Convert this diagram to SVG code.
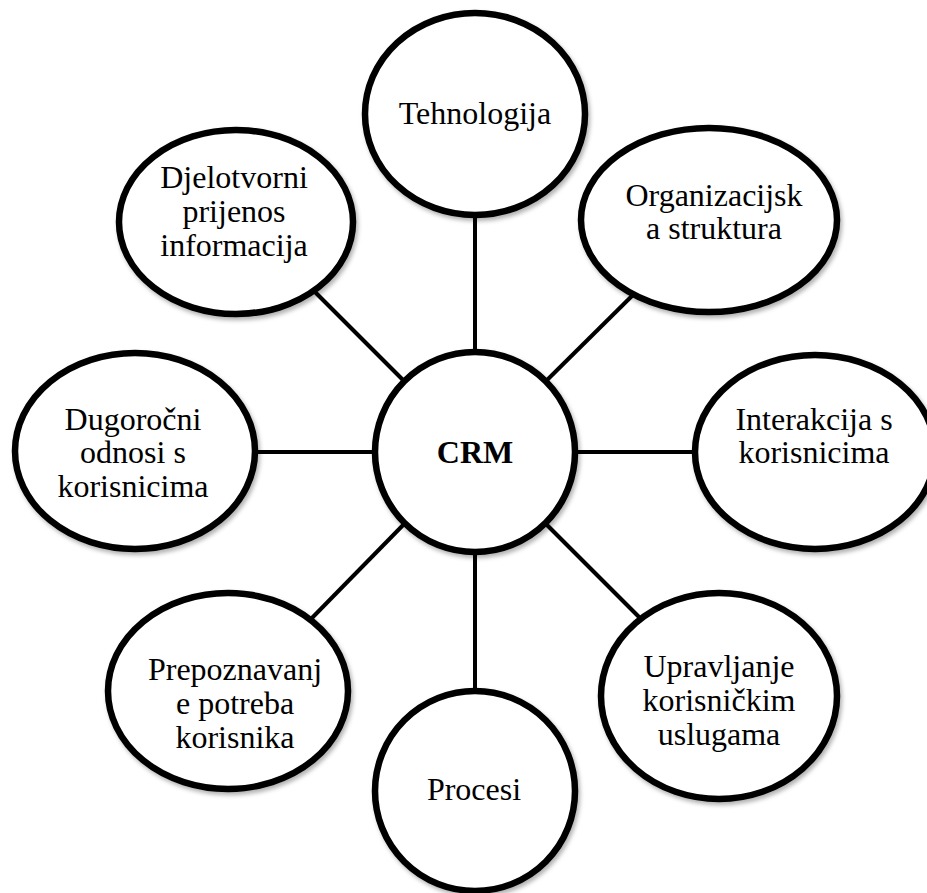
<svg xmlns="http://www.w3.org/2000/svg" width="927" height="893" viewBox="0 0 927 893">
<defs>
<filter id="sh" x="-10%" y="-10%" width="125%" height="125%">
<feDropShadow dx="2" dy="3" stdDeviation="2" flood-color="#000" flood-opacity="0.3"/>
</filter>
<style>
.node ellipse{fill:#fff;stroke:#000;stroke-width:6.5;filter:url(#sh)}
.node text{font-family:"Liberation Serif","Times New Roman",serif;font-size:32px;fill:#000;text-anchor:middle}
.conn line{stroke:#000;stroke-width:4}
</style>
</defs>
<rect width="927" height="893" fill="#fff"/>
<g id="connectors" class="conn">
<line x1="475" y1="200" x2="475" y2="360"/>
<line x1="475" y1="545" x2="475" y2="700"/>
<line x1="245" y1="452" x2="385" y2="452"/>
<line x1="565" y1="452" x2="705" y2="452"/>
<line x1="540" y1="387" x2="640" y2="288"/>
<line x1="410" y1="387" x2="305" y2="282"/>
<line x1="410" y1="518" x2="310" y2="620"/>
<line x1="540" y1="518" x2="642" y2="620"/>
</g>
<g id="tehnologija" class="node">
<ellipse cx="475" cy="114" rx="110" ry="101"/>
<text x="475" y="124">Tehnologija</text>
</g>
<g id="organizacijska" class="node">
<ellipse cx="709" cy="220" rx="128" ry="92"/>
<text x="714" y="206">Organizacijsk</text>
<text x="714" y="239">a struktura</text>
</g>
<g id="interakcija" class="node">
<ellipse cx="815" cy="452" rx="120" ry="97"/>
<text x="814" y="430">Interakcija s</text>
<text x="814" y="463">korisnicima</text>
</g>
<g id="upravljanje" class="node">
<ellipse cx="719" cy="696" rx="118" ry="103"/>
<text x="719" y="677">Upravljanje</text>
<text x="719" y="711">korisničkim</text>
<text x="719" y="745">uslugama</text>
</g>
<g id="procesi" class="node">
<ellipse cx="475" cy="791" rx="100" ry="100"/>
<text x="474" y="800">Procesi</text>
</g>
<g id="prepoznavanje" class="node">
<ellipse cx="228" cy="691" rx="120" ry="98"/>
<text x="235" y="680">Prepoznavanj</text>
<text x="235" y="714">e potreba</text>
<text x="235" y="748">korisnika</text>
</g>
<g id="dugorocni" class="node">
<ellipse cx="135" cy="451" rx="120" ry="98"/>
<text x="133" y="430">Dugoročni</text>
<text x="133" y="463">odnosi s</text>
<text x="133" y="497">korisnicima</text>
</g>
<g id="djelotvorni" class="node">
<ellipse cx="236" cy="222" rx="117" ry="92"/>
<text x="234" y="188">Djelotvorni</text>
<text x="234" y="222">prijenos</text>
<text x="234" y="256">informacija</text>
</g>
<g id="crm" class="node">
<ellipse cx="475" cy="452" rx="100" ry="100"/>
<text x="475" y="463" font-weight="bold">CRM</text>
</g>
</svg>
